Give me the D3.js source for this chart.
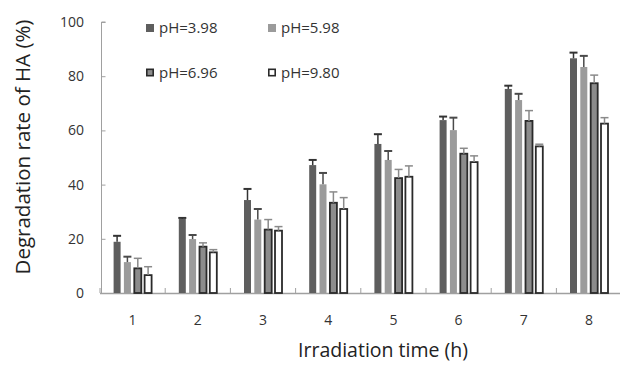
<!DOCTYPE html>
<html><head><meta charset="utf-8">
<script src="https://cdn.jsdelivr.net/npm/d3@7"></script>
<style>body{margin:0;background:#fff}svg{display:block}</style>
</head><body>
<svg id="c" width="620" height="365"></svg>
<script>
const categories = ["1","2","3","4","5","6","7","8"];
const seriesNames = ["pH=3.98","pH=5.98","pH=6.96","pH=9.80"];
const ph398 = [18.9, 27.3, 34.3, 47.2, 55.0, 63.8, 75.3, 86.6];
const ph598 = [11.4, 19.9, 27.1, 40.1, 49.1, 60.1, 71.2, 83.4];
const ph696 = [9.1, 17.1, 23.4, 33.3, 42.4, 51.4, 63.5, 77.4];
const ph980 = [6.6, 15.0, 23.0, 31.0, 42.9, 48.3, 54.1, 62.5];
const err398 = [2.2, 0.4, 4.1, 1.9, 3.6, 1.3, 1.2, 2.1];
const err598 = [2.0, 1.5, 3.9, 4.2, 3.3, 4.6, 2.3, 4.1];
const err696 = [3.7, 1.4, 3.7, 4.0, 3.2, 2.0, 3.8, 3.0];
const err980 = [3.1, 1.0, 1.5, 4.2, 4.0, 2.3, 0.8, 2.2];
const yTicks = [0, 20, 40, 60, 80, 100];

const values = [ph398, ph598, ph696, ph980];
const errors = [err398, err598, err696, err980];
const fills = ["#5e5e5e", "#9b9b9b", "#8c8c8c", "#ffffff"];
const strokes = ["none", "none", "#2a2a2a", "#2a2a2a"];
const errColors = ["#333333", "#4a4a4a", "#8a8a8a", "#8a8a8a"];

const svg = d3.select("#c");
const font = "'Open Sans', 'Liberation Sans', sans-serif";
const x0 = 100, bw = 65.2;
const x = d3.scaleBand().domain(categories).range([x0, x0 + bw * categories.length]).padding(0);
const y = d3.scaleLinear().domain([0, 100]).range([293, 22]);
const offs = [-15.5, -5.2, 5.2, 15.5];
const barW = 7;

// y axis
const ya = svg.append("g").attr("transform", "translate(101.5,0)")
  .call(d3.axisRight(y).tickValues(yTicks).tickSize(4).tickFormat(""));
ya.selectAll("path,line").attr("stroke", "#a0a0a0");
ya.select(".domain").attr("d", `M4,${y(100)}H0V${y(0)}`);
svg.append("g").selectAll("text").data(yTicks).join("text")
  .attr("x", 84).attr("y", d => y(d)).attr("dy", "0.35em")
  .attr("text-anchor", "end").attr("font-family", font).attr("font-size", 14)
  .attr("fill", "#333").text(d => d);

// x axis
const boundaries = d3.range(categories.length + 1).map(i => x0 + bw * i);
svg.append("line").attr("x1", x0).attr("x2", 620).attr("y1", 293.5).attr("y2", 293.5)
  .attr("stroke", "#a0a0a0").attr("stroke-width", 1.5);
svg.append("g").selectAll("line").data(boundaries).join("line")
  .attr("x1", d => d).attr("x2", d => d).attr("y1", 293).attr("y2", 288)
  .attr("stroke", "#a0a0a0");
svg.append("g").selectAll("text").data(categories).join("text")
  .attr("x", d => x(d) + x.bandwidth() / 2).attr("y", 325)
  .attr("text-anchor", "middle").attr("font-family", font).attr("font-size", 14)
  .attr("fill", "#333").text(d => d);

// bars
values.forEach((vals, s) => {
  const g = svg.append("g");
  g.selectAll("rect").data(vals).join("rect")
    .attr("x", (d, i) => x(categories[i]) + bw / 2 + offs[s] - barW / 2)
    .attr("y", d => y(d))
    .attr("width", barW)
    .attr("height", d => y(0) - y(d))
    .attr("fill", fills[s])
    .attr("stroke", strokes[s]).attr("stroke-width", 1.8);
  const e = svg.append("g").attr("stroke", errColors[s]);
  vals.forEach((d, i) => {
    const cx = x(categories[i]) + bw / 2 + offs[s];
    const top = y(d + errors[s][i]);
    e.append("line").attr("x1", cx).attr("x2", cx).attr("y1", y(d)).attr("y2", top).attr("stroke-width", 1.5);
    e.append("line").attr("x1", cx - 4).attr("x2", cx + 4).attr("y1", top).attr("y2", top).attr("stroke-width", s < 2 ? 2 : 1.5);
  });
});

// legend
const legPos = [[146, 28], [268, 28], [146, 72.5], [268, 72.5]];
seriesNames.forEach((n, s) => {
  const [lx, ly] = legPos[s];
  svg.append("rect").attr("x", lx + (s >= 2 ? 0.8 : 0)).attr("y", ly - 4 + (s >= 2 ? 0.8 : 0))
    .attr("width", s >= 2 ? 6.4 : 8).attr("height", s >= 2 ? 6.4 : 8)
    .attr("fill", fills[s]).attr("stroke", strokes[s]).attr("stroke-width", 1.6);
  svg.append("text").attr("x", lx + 13).attr("y", ly).attr("dy", "0.35em")
    .attr("font-family", font).attr("font-size", 15).attr("fill", "#333").text(n);
});

// titles
svg.append("text").attr("transform", "translate(30,147) rotate(-90)")
  .attr("text-anchor", "middle").attr("font-family", font).attr("font-size", 20.5)
  .attr("fill", "#222").text("Degradation rate of HA (%)");
svg.append("text").attr("x", 383).attr("y", 357)
  .attr("text-anchor", "middle").attr("font-family", font).attr("font-size", 19.5)
  .attr("fill", "#222").text("Irradiation time (h)");
</script>
</body></html>
